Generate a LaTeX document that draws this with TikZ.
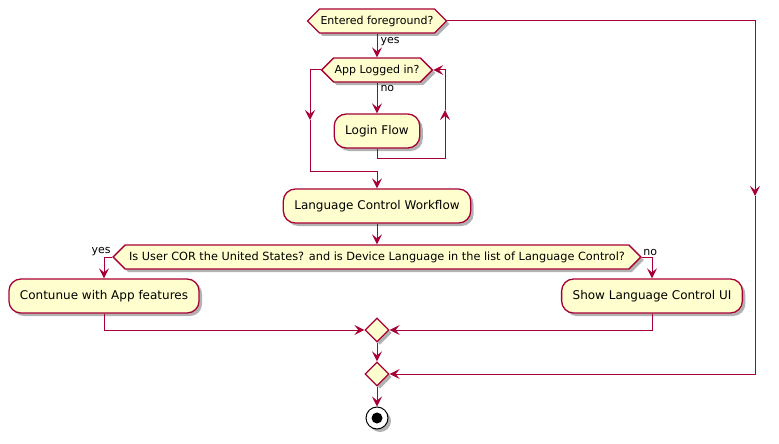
\documentclass[tikz,border=0pt]{standalone}
\usepackage{fontspec}
\setmainfont{DejaVu Sans}
\usetikzlibrary{shapes.symbols, shapes.geometric, shadows, arrows.meta}

\definecolor{umlfill}{HTML}{FEFECE}
\definecolor{umlline}{HTML}{A80036}

\begin{document}
\begin{tikzpicture}[x=1pt, y=-1pt,
		shade/.style={drop shadow={shadow xshift=3pt, shadow yshift=-3pt, opacity=0.3, fill=black}},
		action/.style={draw=umlline, fill=umlfill, line width=1.3pt, rounded corners=12pt, minimum height=34pt, inner xsep=11pt, inner ysep=0pt, font=\fontsize{12}{14}\selectfont, shade},
		decision/.style={signal, signal to=west and east, signal pointer angle=90, draw=umlline, fill=umlfill, line width=1.3pt, minimum height=24pt, inner xsep=1pt, inner ysep=0pt, font=\fontsize{11}{13}\selectfont, shade},
		merge/.style={diamond, draw=umlline, fill=umlfill, line width=1.3pt, minimum width=24pt, minimum height=24pt, inner sep=0pt, shade},
		stopnode/.style={circle, draw=black, fill=white, line width=1pt, minimum size=22pt, inner sep=0pt, shade, path picture={\fill[black] (path picture bounding box.center) circle (5.5pt);}},
		line/.style={draw=umlline, line width=1pt},
		flow/.style={line, -{Stealth[length=10pt, width=10pt, inset=4pt]}},
		lbl/.style={font=\fontsize{11}{13}\selectfont, inner sep=1pt}]
	\useasboundingbox (0,0) rectangle (779,444);

	\node[decision] (fg) at (377,21) {Entered foreground?};
	\node[decision] (login) at (377,70) {App Logged in?};
	\node[action] (lflow) at (377,131) {Login Flow};
	\node[action] (lcw) at (377,206) {Language Control Workflow};
	\node[decision, font=\fontsize{11.3}{13}\selectfont, inner xsep=4pt] (cor) at (377,257) {Is User COR the United States? and is Device Language in the list of Language Control?};
	\node[action] (cont) at (104,296) {Contunue with App features};
	\node[action] (show) at (652,296) {Show Language Control UI};
	\node[merge] (m1) at (377,330) {};
	\node[merge] (m2) at (377,374) {};
	\node[stopnode] (stop) at (377,418) {};

	\coordinate (fgM) at (755,196);
	\coordinate (loopL) at (310,120);
	\coordinate (loopJ) at (377,171);
	\coordinate (loopR) at (445,110);
	\coordinate (corL) at (104,257);
	\coordinate (corR) at (652,257);

	\draw[flow] (fg.south) -- (login.north) node[lbl, pos=0.1, anchor=north west, xshift=2pt] {yes};
	\draw[flow] (fg.east) -| (fgM);
	\draw[flow] (fgM) |- (m2.east);

	\draw[flow] (login.south) -- (lflow.north) node[lbl, pos=0.05, anchor=north west, xshift=2pt] {no};
	\draw[flow] (login.west) -| (loopL);
	\draw[line] (loopL) |- (loopJ);
	\draw[flow] (loopJ) -- (lcw.north);
	\draw[flow] (lflow.south) -- ++(0,10) -| (loopR);
	\draw[flow] (loopR) |- (login.east);

	\draw[flow] (lcw.south) -- (cor.north);
	\draw[line] (cor.west) -- (corL) node[lbl, anchor=south east, pos=0] {yes};
	\draw[flow] (corL) -- (cont.north);
	\draw[line] (cor.east) -- (corR) node[lbl, anchor=south west, pos=0] {no};
	\draw[flow] (corR) -- (show.north);

	\draw[flow] (cont.south) |- (m1.west);
	\draw[flow] (show.south) |- (m1.east);
	\draw[flow] (m1.south) -- (m2.north);
	\draw[flow] (m2.south) -- (stop.north);
\end{tikzpicture}
\end{document}
